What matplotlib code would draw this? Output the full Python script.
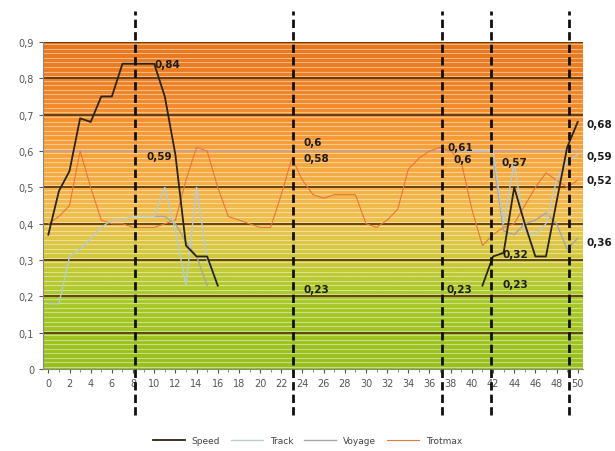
import numpy as np
import matplotlib
matplotlib.use("Agg")
import matplotlib.pyplot as plt
from matplotlib.colors import LinearSegmentedColormap
import matplotlib.transforms as mtransforms

nan = np.nan
steps = list(range(51))

speed = [0.37, 0.49, 0.545, 0.69, 0.68, 0.75, 0.75, 0.84, 0.84, 0.84,
         0.84, 0.75, 0.59, 0.34, 0.31, 0.31, 0.23] + [nan] * 24 + \
        [0.23, 0.31, 0.32, 0.50, 0.40, 0.31, 0.31, 0.46, 0.61, 0.68]

track = [0.18, 0.18, 0.31, 0.33, 0.36, 0.39, 0.41, 0.41, 0.42, 0.42,
         0.42, 0.50, 0.38, 0.23, 0.50, 0.30, 0.23] + [nan] * 22 + \
        [0.60, 0.60, 0.60, 0.60, 0.40, 0.57, 0.38, 0.37, 0.40, 0.52, 0.57, 0.59]

voyage = [nan] * 10 + [0.42, 0.42, 0.40, 0.35, 0.31, 0.23] + [nan] * 26 + \
         [0.58, 0.38, 0.37, 0.40, 0.41, 0.43, 0.40, 0.33, 0.36]

trotmax = [0.40, 0.42, 0.45, 0.60, 0.50, 0.41, 0.40, 0.40, 0.39, 0.39,
           0.39, 0.40, 0.41, 0.52, 0.61, 0.60, 0.50, 0.42, 0.41, 0.40,
           0.39, 0.39, 0.48, 0.58, 0.52, 0.48, 0.47, 0.48, 0.48, 0.48,
           0.40, 0.39, 0.41, 0.44, 0.55, 0.58, 0.60, 0.61, 0.60, 0.57,
           0.44, 0.34, 0.37, 0.39, 0.40, 0.45, 0.50, 0.54, 0.52, 0.50, 0.52]

# value labels: (x, y, text)
value_labels = [
    (10.0, 0.84, "0,84"), (9.3, 0.585, "0,59"),
    (24.1, 0.625, "0,6"), (24.1, 0.58, "0,58"), (24.1, 0.22, "0,23"),
    (37.7, 0.612, "0,61"), (38.3, 0.578, "0,6"), (37.6, 0.22, "0,23"),
    (42.8, 0.57, "0,57"), (42.9, 0.318, "0,32"), (42.9, 0.235, "0,23"),
    (50.8, 0.675, "0,68"), (50.8, 0.585, "0,59"),
    (50.8, 0.52, "0,52"), (50.8, 0.35, "0,36"),
]

markers_x = [8.2, 23.1, 37.2, 41.8, 49.2]

fig = plt.figure(figsize=(6.15, 4.52), dpi=100)
ax = fig.add_axes([0.070, 0.181, 0.878, 0.724])

# banded background, green at the bottom to orange at the top
bg = LinearSegmentedColormap.from_list("bg", [
    (0.0, "#98bf1c"), (0.2 / 0.9, "#a9c928"), (0.3 / 0.9, "#cec93a"),
    (0.4 / 0.9, "#edc24e"), (0.5 / 0.9, "#f5b044"), (0.6 / 0.9, "#f7a23a"),
    (0.7 / 0.9, "#f38f2e"), (0.8 / 0.9, "#ed7f22"), (1.0, "#e8761c")])
grad = np.linspace(0, 1, 300).reshape(-1, 1)
ax.imshow(grad, cmap=bg, origin="lower", aspect="auto",
          extent=[-0.5, 50.5, 0, 0.9], zorder=0)
for yy in np.arange(0.006, 0.9, 0.0125):
    ax.axhline(yy, color="white", alpha=0.45, lw=0.8, zorder=1)
for yy in np.arange(0.1, 0.95, 0.1):
    col = "#c9a488" if abs(yy - 0.6) < 1e-6 else "#5b3a12"
    ax.axhline(yy, color=col, lw=1.3, zorder=2)

ax.plot(steps, trotmax, color="#e8753a", lw=0.8, zorder=3, label="Trotmax")
ax.plot(steps, voyage, color="#a6a6a6", lw=1.0, zorder=3, label="Voyage")
ax.plot(steps, track, color="#b4ccd2", lw=1.0, zorder=3, label="Track")
ax.plot(steps, speed, color="#2b2416", lw=1.3, zorder=4, label="Speed")

for x, y, t in value_labels:
    ax.text(x, y, t, fontsize=7.5, fontweight="bold", color="#1c1c1c",
            va="center", ha="left", zorder=6, clip_on=False)

trans = mtransforms.blended_transform_factory(ax.transData, ax.transAxes)
for mx in markers_x:
    ax.plot([mx, mx], [-0.14, 1.095], transform=trans, color="#111111",
            lw=2.0, ls=(0, (3, 1.5)), zorder=5, clip_on=False)

ax.set_xlim(-0.5, 50.5)
ax.set_ylim(0, 0.9)
ax.set_xticks(range(0, 51, 2))
ax.set_xticks(range(0, 51), minor=True)
ax.set_yticks(np.arange(0, 0.91, 0.1))
ax.set_yticklabels(["0"] + ["0,%d" % i for i in range(1, 10)])
ax.tick_params(axis="both", labelsize=7, colors="#555555", length=3, width=0.8)
ax.tick_params(axis="x", which="minor", length=2, color="#777777")
for s in ["top", "right"]:
    ax.spines[s].set_visible(False)
for s in ["left", "bottom"]:
    ax.spines[s].set_color("#888888")

handles, labels = ax.get_legend_handles_labels()
order = [3, 2, 1, 0]
fig.legend([handles[i] for i in order], [labels[i] for i in order],
           loc="lower center", bbox_to_anchor=(0.5, -0.005), ncol=4,
           frameon=False, fontsize=6.5, handlelength=3.5, columnspacing=1.2,
           labelcolor="#444444")

fig.savefig("out.png", dpi=100)
